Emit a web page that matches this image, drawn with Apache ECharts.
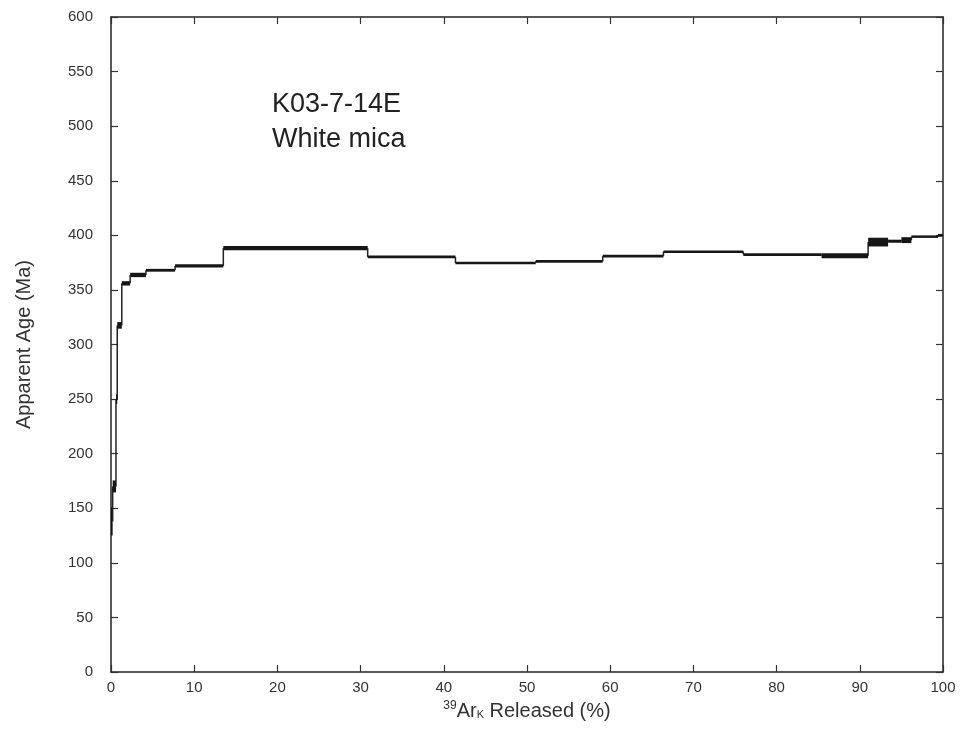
<!DOCTYPE html>
<html>
<head>
<meta charset="utf-8">
<script src="https://cdn.jsdelivr.net/npm/echarts@6/dist/echarts.min.js"></script>
<style>
  html, body { margin: 0; padding: 0; background: #fff; }
  #chart { width: 961px; height: 751px; }
</style>
</head>
<body>
<div id="chart"></div>
<script>
// age spectrum steps: cumulative 39Ar released (%), apparent age (Ma), error (Ma)
const stepStart = [0, 0.2, 0.6, 0.75, 1.3, 2.3, 4.2, 7.7, 13.5, 30.85, 41.4, 51.05, 59.1, 66.4, 76.0, 85.4, 91.0, 93.4, 95.0, 96.2, 99.4]
const stepEnd = [0.2, 0.6, 0.75, 1.3, 2.3, 4.2, 7.7, 13.5, 30.85, 41.4, 51.05, 59.1, 66.4, 76.0, 85.4, 91.0, 93.4, 95.0, 96.2, 99.4, 100]
const ages = [138, 170, 250, 317.5, 356, 363.7, 368, 372, 388.3, 380.3, 374.6, 376.2, 380.9, 385, 382.3, 381.4, 393.8, 394.6, 395.6, 398.8, 400]
const errors = [13, 5.5, 4.5, 3, 2, 2, 1.3, 1.5, 2, 1.2, 1.2, 1.2, 1.3, 1.2, 1.3, 2.3, 4, 1.4, 2.7, 1, 1.3]

const sampleLabel = ['K03-7-14E', 'White mica']

const stepData = stepStart.map((s, i) => [
  s, stepEnd[i], ages[i], errors[i],
  i < ages.length - 1 ? ages[i + 1] : ages[i]
])

const chart = echarts.init(document.getElementById('chart'))

const font = 'Liberation Sans, Arial'
const axisStyle = { onZero: false, lineStyle: { color: '#222', width: 1.5 } }
const tickStyle = { inside: true, length: 7, lineStyle: { color: '#333', width: 1.2 } }
const labelStyle = { color: '#333', fontSize: 15, fontFamily: font }

const option = {
  animation: false,
  grid: { left: 111, right: 18, top: 17, bottom: 79 },
  xAxis: [
    {
      type: 'value', min: 0, max: 100, interval: 10, position: 'bottom',
      axisLine: axisStyle, axisTick: tickStyle,
      axisLabel: { ...labelStyle, margin: 8 },
      splitLine: { show: false },
      name: '{sup|39}{n|Ar}{sub|K}{n| Released (%)}',
      nameLocation: 'middle', nameGap: 7,
      nameTextStyle: {
        color: '#333', fontFamily: font,
        rich: {
          n: { fontSize: 20, color: '#333', padding: [0, 0, 8, 0], fontFamily: font },
          sup: { fontSize: 12, color: '#333', padding: [0, 0, 19, 0], fontFamily: font },
          sub: { fontSize: 11, color: '#333', padding: [0, 0, 0, 0], fontFamily: font }
        }
      }
    },
    {
      type: 'value', min: 0, max: 100, interval: 10, position: 'top',
      axisLine: axisStyle, axisTick: tickStyle,
      axisLabel: { show: false }, splitLine: { show: false }
    }
  ],
  yAxis: [
    {
      type: 'value', min: 0, max: 600, interval: 50, position: 'left',
      axisLine: { show: true, ...axisStyle }, axisTick: { show: true, ...tickStyle },
      axisLabel: { ...labelStyle, margin: 18 },
      splitLine: { show: false },
      name: 'Apparent Age (Ma)',
      nameLocation: 'middle', nameGap: 77,
      nameTextStyle: { color: '#333', fontSize: 20, fontFamily: font }
    },
    {
      type: 'value', min: 0, max: 600, interval: 50, position: 'right',
      axisLine: { show: true, ...axisStyle }, axisTick: { show: true, ...tickStyle },
      axisLabel: { show: false }, splitLine: { show: false }
    }
  ],
  graphic: [
    {
      type: 'text', left: 272, top: 87,
      style: {
        text: sampleLabel.join('\n'),
        fill: '#222', fontSize: 27, lineHeight: 35,
        fontFamily: font
      }
    }
  ],
  series: [
    {
      type: 'custom',
      data: stepData,
      clip: true,
      renderItem: (params, api) => {
        const x0 = api.value(0), x1 = api.value(1)
        const age = api.value(2), err = api.value(3), next = api.value(4)
        const pTop = api.coord([x0, age + err])
        const pBot = api.coord([x1, age - err])
        let h = pBot[1] - pTop[1]
        let y = pTop[1]
        if (h < 2.5) { y -= (2.5 - h) / 2; h = 2.5 }
        const children = [{
          type: 'rect',
          shape: { x: pTop[0], y: y, width: pBot[0] - pTop[0], height: h },
          style: { fill: '#161616' }
        }]
        if (params.dataIndex < stepData.length - 1) {
          const a = api.coord([x1, age])
          const b = api.coord([x1, next])
          children.push({
            type: 'line',
            shape: { x1: a[0], y1: a[1], x2: b[0], y2: b[1] },
            style: { stroke: '#222', lineWidth: 1.5 }
          })
        }
        return { type: 'group', children }
      }
    }
  ]
}

chart.setOption(option)
</script>
</body>
</html>
